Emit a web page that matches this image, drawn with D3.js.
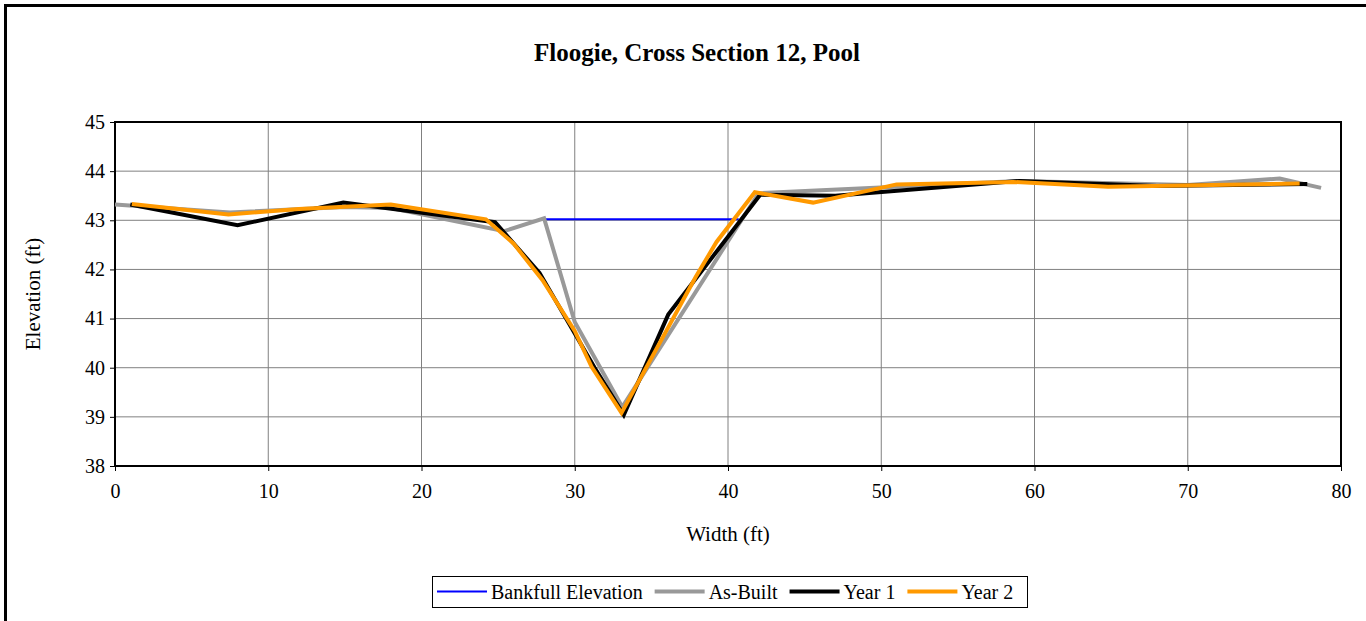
<!DOCTYPE html>
<html>
<head>
<meta charset="utf-8">
<script src="https://cdn.jsdelivr.net/npm/d3@7"></script>
<style>
  html, body { margin: 0; padding: 0; background: #fff; }
  svg { display: block; font-family: "Liberation Serif", "Times New Roman", serif; }
</style>
</head>
<body>
<svg id="chart" width="1366" height="621"></svg>
<script>
// Cross-section survey: station (ft) and elevation (ft)
const bankfullX = [28, 40.7];
const bankfullY = [43.02, 43.02];

const asBuiltX = [0, 7.5, 15, 18, 25.4, 28, 30, 33.1, 42, 51, 59, 70, 76, 78.7];
const asBuiltY = [43.32, 43.16, 43.27, 43.25, 42.78, 43.04, 40.93, 39.2, 43.55, 43.68, 43.8, 43.72, 43.85, 43.66];

const year1X = [1, 8, 14.9, 24.8, 27.7, 31.3, 33.2, 36.1, 42.1, 47, 59, 68, 77.8];
const year1Y = [43.32, 42.9, 43.36, 42.96, 41.93, 40.0, 39.04, 41.08, 43.52, 43.5, 43.8, 43.7, 43.74];

const year2X = [1.1, 7.4, 12, 18, 24.2, 26, 27.9, 30, 31.1, 33.05, 37.9, 39.25, 41.75, 45.55, 51, 58.6, 64.8, 77.3];
const year2Y = [43.33, 43.12, 43.23, 43.32, 43.02, 42.53, 41.78, 40.75, 40.02, 39.08, 41.85, 42.56, 43.57, 43.36, 43.73, 43.78, 43.68, 43.75];

const xTicks = [0, 10, 20, 30, 40, 50, 60, 70, 80];
const yTicks = [38, 39, 40, 41, 42, 43, 44, 45];

const titleText = "Floogie, Cross Section 12, Pool";
const xLabel = "Width (ft)";
const yLabel = "Elevation (ft)";

const series = [
  { name: "Bankfull Elevation", xs: bankfullX, ys: bankfullY, color: "#0000ff", width: 2 },
  { name: "As-Built", xs: asBuiltX, ys: asBuiltY, color: "#999999", width: 4 },
  { name: "Year 1", xs: year1X, ys: year1Y, color: "#000000", width: 4 },
  { name: "Year 2", xs: year2X, ys: year2Y, color: "#ff9900", width: 4 }
];

const svg = d3.select("#chart");
const plot = { left: 115, right: 1341, top: 122, bottom: 466 };

// chart frame (runs off the right and bottom of the page)
svg.append("rect")
  .attr("x", 5.5).attr("y", 5.5)
  .attr("width", 1400).attr("height", 700)
  .attr("fill", "none").attr("stroke", "#000").attr("stroke-width", 3);

const x = d3.scaleLinear().domain([0, 80]).range([plot.left, plot.right]);
const y = d3.scaleLinear().domain([38, 45]).range([plot.bottom, plot.top]);

// gridlines
const grid = svg.append("g");
grid.selectAll("line.v").data(xTicks.slice(1, -1)).join("line")
  .attr("x1", d => x(d)).attr("x2", d => x(d))
  .attr("y1", plot.top).attr("y2", plot.bottom)
  .attr("stroke", "#808080").attr("stroke-width", 1);
grid.selectAll("line.h").data(yTicks.slice(1, -1)).join("line")
  .attr("x1", plot.left).attr("x2", plot.right)
  .attr("y1", d => y(d)).attr("y2", d => y(d))
  .attr("stroke", "#808080").attr("stroke-width", 1);

// axes
const xAxis = svg.append("g")
  .attr("transform", `translate(0,${plot.bottom})`)
  .call(d3.axisBottom(x).tickValues(xTicks).tickSize(5).tickPadding(13).tickFormat(d3.format("d")));
const yAxis = svg.append("g")
  .attr("transform", `translate(${plot.left},0)`)
  .call(d3.axisLeft(y).tickValues(yTicks).tickSize(5).tickPadding(5).tickFormat(d3.format("d")));
[xAxis, yAxis].forEach(a => {
  a.select(".domain").remove();
  a.selectAll("line").attr("stroke", "#000");
  a.selectAll("text").attr("font-size", 20).attr("fill", "#000")
    .attr("font-family", "Liberation Serif, Times New Roman, serif");
});

// plot border
svg.append("rect")
  .attr("x", plot.left).attr("y", plot.top)
  .attr("width", plot.right - plot.left).attr("height", plot.bottom - plot.top)
  .attr("fill", "none").attr("stroke", "#000").attr("stroke-width", 2);

// series lines
const line = d3.line().x(d => x(d[0])).y(d => y(d[1]));
series.forEach(s => {
  svg.append("path")
    .datum(s.xs.map((v, i) => [v, s.ys[i]]))
    .attr("d", line)
    .attr("fill", "none")
    .attr("stroke", s.color)
    .attr("stroke-width", s.width)
    .attr("stroke-linejoin", "miter");
});

// title and axis labels
svg.append("text")
  .attr("x", 697).attr("y", 61)
  .attr("text-anchor", "middle")
  .attr("font-size", 25).attr("font-weight", "bold")
  .text(titleText);
svg.append("text")
  .attr("x", 728).attr("y", 541)
  .attr("text-anchor", "middle").attr("font-size", 21)
  .text(xLabel);
svg.append("text")
  .attr("transform", `translate(40,${(plot.top + plot.bottom) / 2}) rotate(-90)`)
  .attr("text-anchor", "middle").attr("font-size", 21)
  .text(yLabel);

// legend
const legend = svg.append("g");
const legBox = { x: 432, y: 576, w: 595, h: 31 };
legend.append("rect")
  .attr("x", legBox.x + 0.5).attr("y", legBox.y + 0.5)
  .attr("width", legBox.w).attr("height", legBox.h)
  .attr("fill", "#fff").attr("stroke", "#000").attr("stroke-width", 1);
let lx = legBox.x + 5;
const ly = legBox.y + legBox.h / 2;
series.forEach(s => {
  legend.append("line")
    .attr("x1", lx).attr("x2", lx + 50)
    .attr("y1", ly).attr("y2", ly)
    .attr("stroke", s.color).attr("stroke-width", s.width);
  const t = legend.append("text")
    .attr("x", lx + 54).attr("y", ly + 7)
    .attr("font-size", 20)
    .text(s.name);
  lx += 54 + t.node().getComputedTextLength() + 12;
});
</script>
</body>
</html>
